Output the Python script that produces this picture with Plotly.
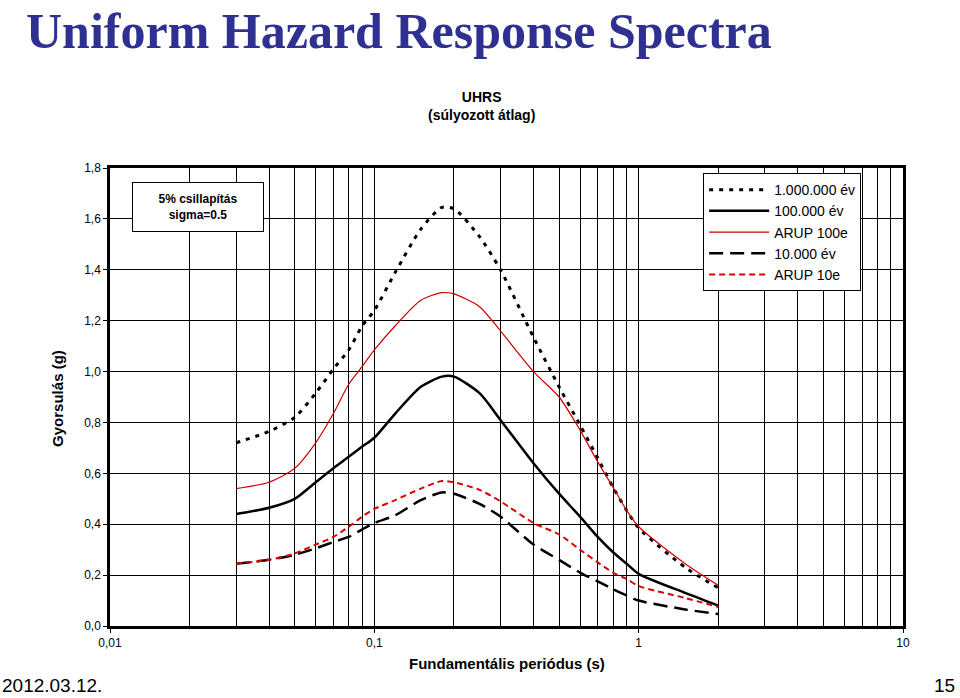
import plotly.graph_objects as go

# ---- data ----
periods = [0.03, 0.04, 0.05, 0.06, 0.07, 0.08, 0.09, 0.1, 0.12, 0.15, 0.18, 0.2,
           0.25, 0.3, 0.4, 0.5, 0.6, 0.7, 0.8, 0.9, 1.0, 1.5, 2.0]

ev_1000000 = [0.72, 0.765, 0.82, 0.915, 1.01, 1.085, 1.18, 1.24, 1.39, 1.56, 1.645, 1.64,
              1.53, 1.40, 1.135, 0.94, 0.79, 0.66, 0.545, 0.455, 0.385, 0.23, 0.15]
ev_100000 = [0.44, 0.465, 0.50, 0.565, 0.62, 0.665, 0.705, 0.74, 0.835, 0.94, 0.98, 0.98,
             0.915, 0.81, 0.64, 0.52, 0.43, 0.35, 0.29, 0.245, 0.205, 0.13, 0.08]
arup_100e = [0.54, 0.565, 0.62, 0.72, 0.835, 0.95, 1.02, 1.085, 1.18, 1.28, 1.31, 1.305,
             1.255, 1.16, 1.0, 0.90, 0.77, 0.645, 0.545, 0.455, 0.39, 0.245, 0.16]
ev_10000 = [0.245, 0.26, 0.28, 0.305, 0.33, 0.35, 0.38, 0.405, 0.435, 0.495, 0.525, 0.52,
            0.48, 0.43, 0.32, 0.26, 0.21, 0.175, 0.145, 0.12, 0.10, 0.065, 0.047]
arup_10e = [0.245, 0.26, 0.285, 0.32, 0.35, 0.39, 0.43, 0.46, 0.495, 0.54, 0.57, 0.565,
            0.535, 0.49, 0.405, 0.36, 0.30, 0.25, 0.21, 0.185, 0.157, 0.11, 0.075]

x_tickvals = [0.01, 0.1, 1, 10]
x_ticktext = ["0,01", "0,1", "1", "10"]
y_tickvals = [0.0, 0.2, 0.4, 0.6, 0.8, 1.0, 1.2, 1.4, 1.6, 1.8]
y_ticktext = ["0,0", "0,2", "0,4", "0,6", "0,8", "1,0", "1,2", "1,4", "1,6", "1,8"]
minor_vals = [m * d for d in (0.01, 0.1, 1) for m in range(2, 10)]

series = [
    ("1.000.000 év", ev_1000000, dict(color="black", width=3, dash="4px,6px")),
    ("100.000 év", ev_100000, dict(color="black", width=2.5)),
    ("ARUP 100e", arup_100e, dict(color="#CC0000", width=1.2)),
    ("10.000 év", ev_10000, dict(color="black", width=2.5, dash="14px,7px")),
    ("ARUP 10e", arup_10e, dict(color="#DD0000", width=2, dash="6px,4px")),
]

fig = go.Figure()
for name, vals, line in series:
    fig.add_trace(go.Scatter(x=periods, y=vals, name=name, mode="lines",
                             line=dict(shape="spline", smoothing=0.7, **line)))

font = "Liberation Sans, Arial, sans-serif"
fig.update_layout(
    width=960, height=698,
    margin=dict(l=110, r=57, t=168, b=72),
    paper_bgcolor="white", plot_bgcolor="white",
    font=dict(family=font, color="black", size=12),
    showlegend=True,
    legend=dict(x=0.748, y=0.989, xanchor="left", yanchor="top",
                bgcolor="white", bordercolor="black", borderwidth=1,
                font=dict(size=14, family=font), tracegroupgap=0,
                itemwidth=60),
    xaxis=dict(type="log", range=[-2, 1], tickvals=x_tickvals, ticktext=x_ticktext,
               showgrid=True, gridcolor="black", gridwidth=1,
               minor=dict(tickvals=minor_vals, showgrid=True, gridcolor="black",
                          gridwidth=1, ticks=""),
               showline=True, linecolor="black", linewidth=2.5, mirror=True,
               ticks="outside", ticklen=4, tickcolor="black", zeroline=False,
               tickfont=dict(size=12)),
    yaxis=dict(range=[0, 1.8], tickvals=y_tickvals, ticktext=y_ticktext,
               showgrid=True, gridcolor="black", gridwidth=1,
               showline=True, linecolor="black", linewidth=2.5, mirror=True,
               ticks="outside", ticklen=4, tickcolor="black", zeroline=False,
               tickfont=dict(size=12)),
)

annos = [
    dict(text="<b>Uniform Hazard Response Spectra</b>", x=-0.1084, y=1.364,
         xanchor="left", yanchor="top",
         font=dict(family="Liberation Serif, Times New Roman, serif", size=50, color="#2E3192")),
    dict(text="<b>UHRS<br>(súlyozott átlag)</b>", x=0.469, y=1.1354,
         xanchor="center", yanchor="middle", font=dict(size=14)),
    dict(text="<b>Fundamentális periódus (s)</b>", x=0.5, y=-0.0808,
         xanchor="center", yanchor="middle", font=dict(size=15)),
    dict(text="<b>Gyorsulás (g)</b>", x=-0.0656, y=0.498, textangle=-90,
         xanchor="center", yanchor="middle", font=dict(size=15)),
    dict(text="2012.03.12.", x=-0.1387, y=-0.131, xanchor="left", yanchor="middle",
         font=dict(size=19)),
    dict(text="15", x=1.068, y=-0.131, xanchor="right", yanchor="middle",
         font=dict(size=19)),
    dict(text="<b>5% csillapítás<br>sigma=0.5</b>", x=0.111, y=0.915,
         xanchor="center", yanchor="middle", font=dict(size=12),
         bgcolor="white", bordercolor="black", borderwidth=1, borderpad=4,
         width=122, height=40),
]
for a in annos:
    fig.add_annotation(xref="paper", yref="paper", showarrow=False, **a)

fig.write_html("out.html", config={"displayModeBar": False},
               post_script="document.body.style.margin='0';document.body.style.overflow='hidden';")
